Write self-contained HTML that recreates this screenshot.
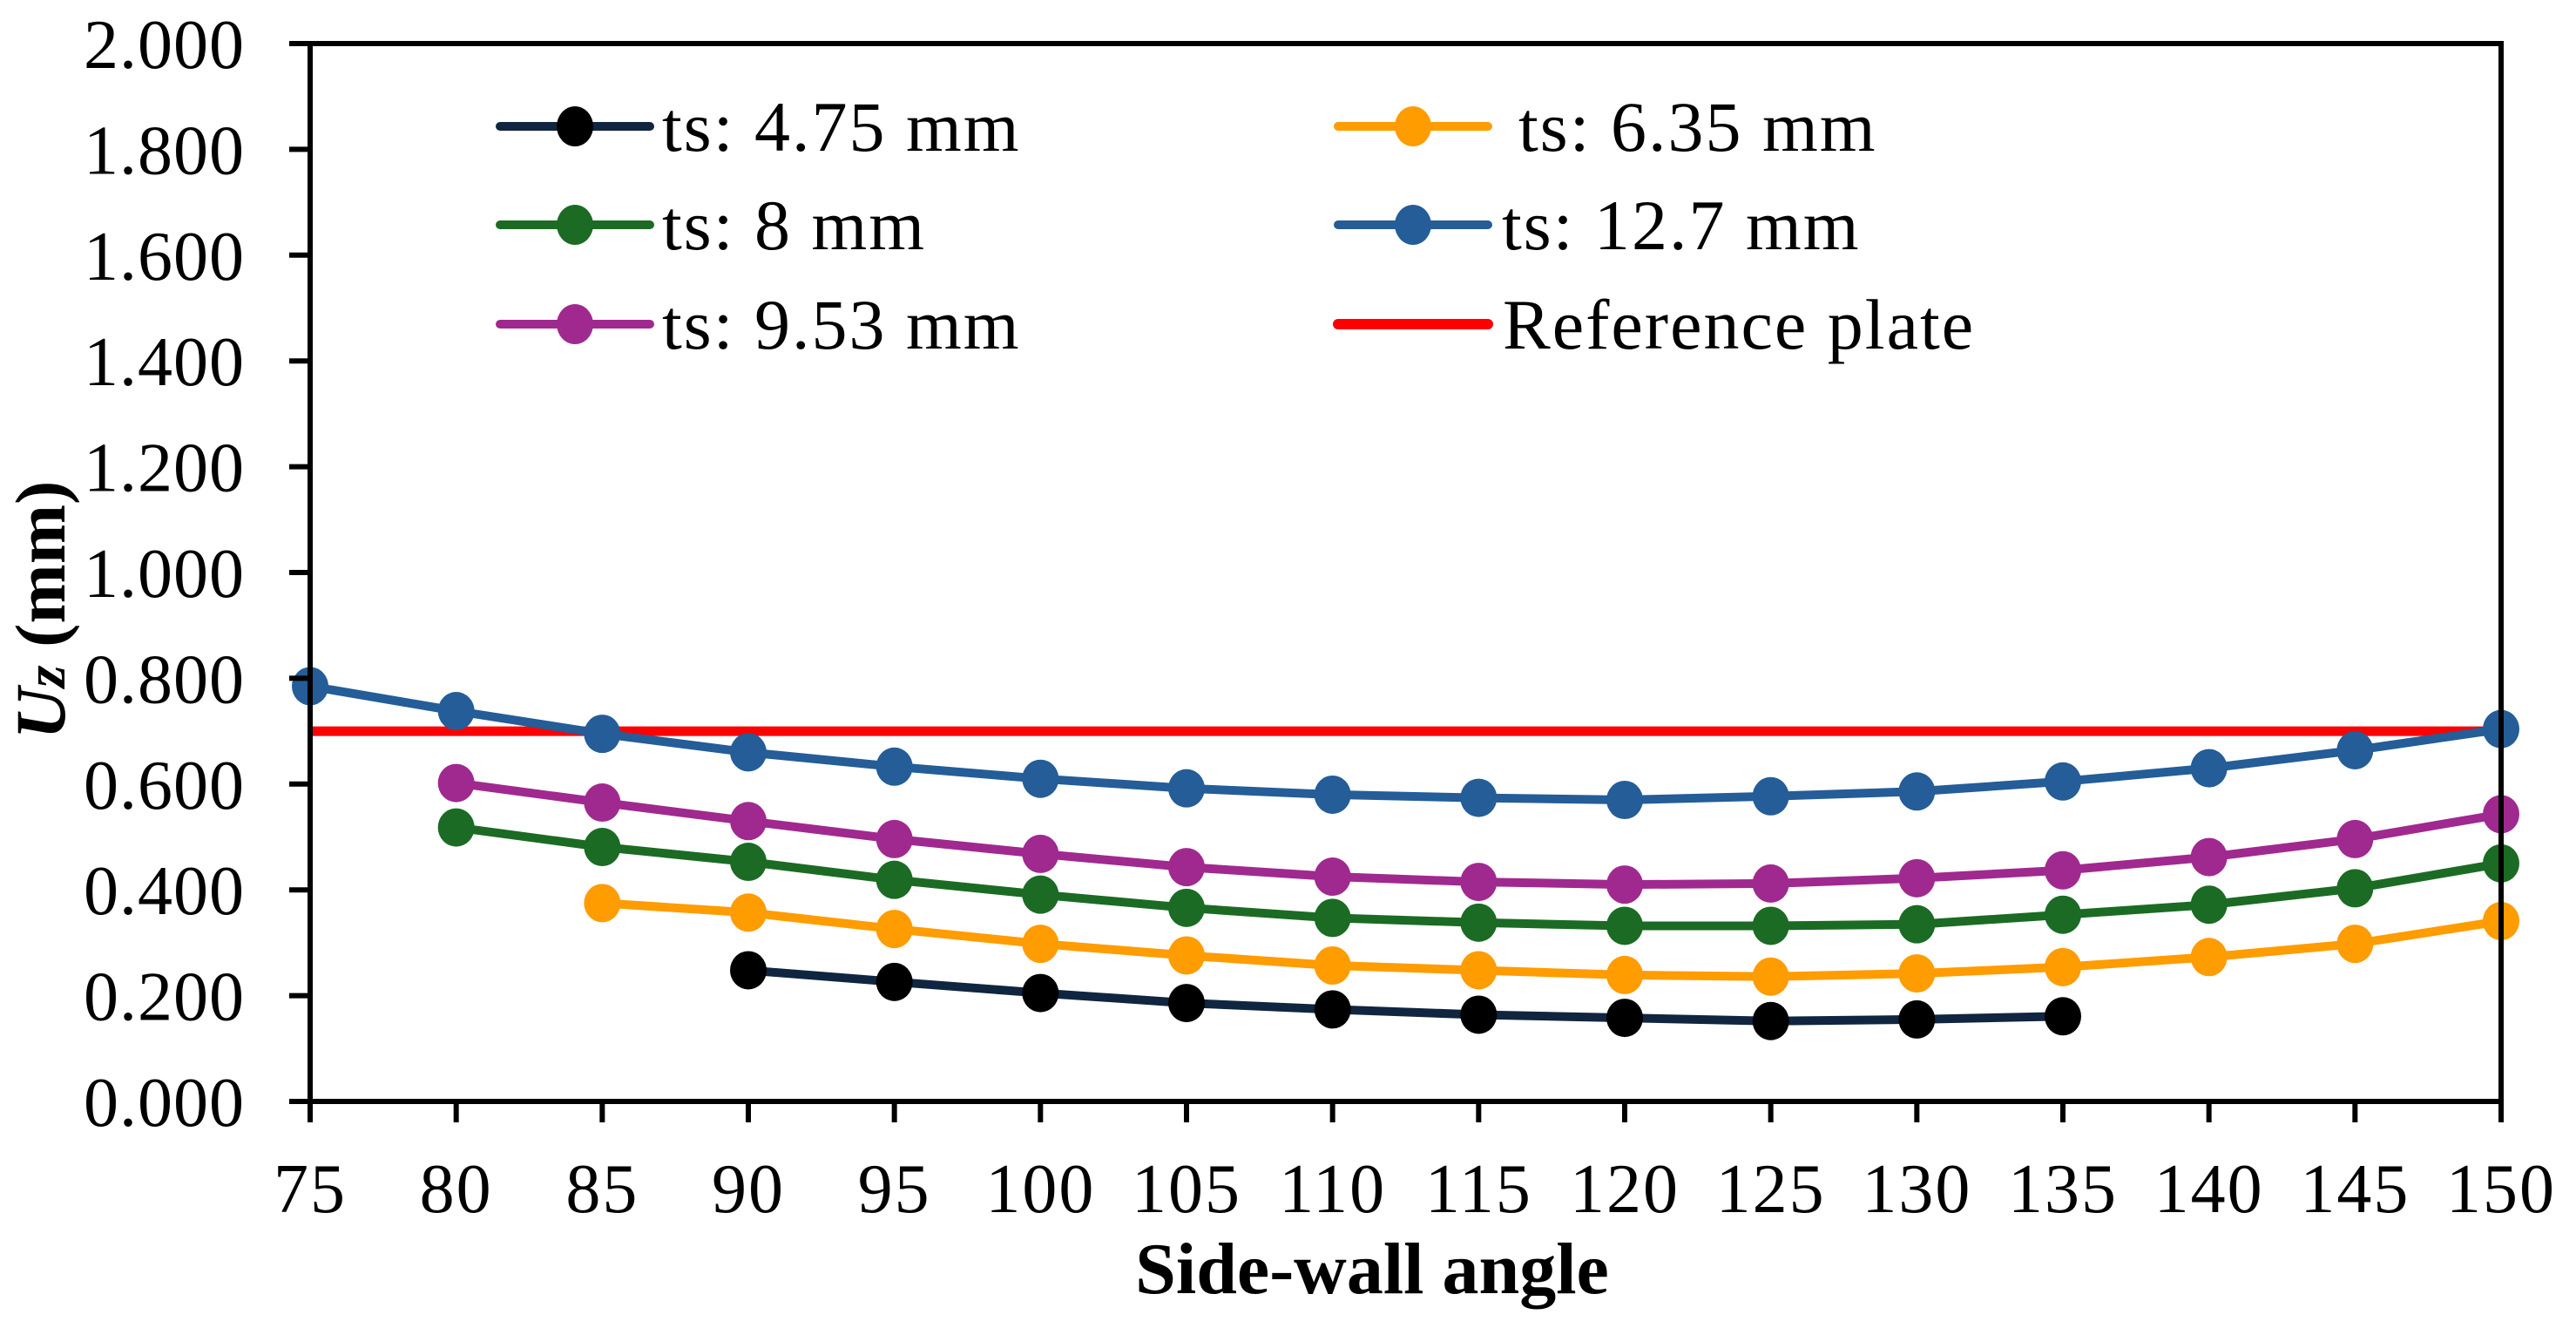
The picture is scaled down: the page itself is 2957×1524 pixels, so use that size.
<!DOCTYPE html>
<html><head><meta charset="utf-8"><style>
html,body{margin:0;padding:0;background:#fff;}
svg{display:block;font-family:"Liberation Serif",serif;}
</style></head><body>
<svg id="chart" width="2957" height="1524" viewBox="0 0 2957 1524" xmlns="http://www.w3.org/2000/svg">
<rect width="2957" height="1524" fill="#fff"/>
<g id="grid-layer"></g>
<g id="series-layer"></g>
<g id="axes-layer"></g>
<g id="legend-layer"></g>
</svg>
<script>
const categories = [75,80,85,90,95,100,105,110,115,120,125,130,135,140,145,150];
const xTicks = [75,80,85,90,95,100,105,110,115,120,125,130,135,140,145,150];
const yTicks = [0,0.2,0.4,0.6,0.8,1.0,1.2,1.4,1.6,1.8,2.0];
const ts475 = [null,null,null,0.248,0.226,0.205,0.186,0.174,0.164,0.158,0.152,0.155,0.161,null,null,null];
const ts635 = [null,null,0.375,0.357,0.326,0.298,0.276,0.257,0.248,0.239,0.236,0.242,0.254,0.273,0.298,0.341];
const ts8 = [null,0.518,0.481,0.453,0.419,0.391,0.366,0.347,0.338,0.332,0.332,0.335,0.353,0.372,0.403,0.450];
const ts127 = [0.785,0.738,0.695,0.660,0.633,0.610,0.592,0.580,0.574,0.570,0.577,0.586,0.605,0.630,0.664,0.704];
const ts953 = [null,0.602,0.565,0.530,0.496,0.468,0.443,0.425,0.415,0.410,0.412,0.422,0.437,0.462,0.496,0.543];
const referencePlate = 0.70;

const NS="http://www.w3.org/2000/svg";
const L=356,R=2871,T=50,B=1264;
const xMin=75,xMax=150,yMin=0,yMax=2;
function xs(v){return L+(v-xMin)/(xMax-xMin)*(R-L);}
function ys(v){return B-(v-yMin)/(yMax-yMin)*(B-T);}
function mk(tag,attrs,parent){const e=document.createElementNS(NS,tag);for(const k in attrs)e.setAttribute(k,attrs[k]);parent.appendChild(e);return e;}

const seriesL=document.getElementById('series-layer');
const axesL=document.getElementById('axes-layer');
const legL=document.getElementById('legend-layer');

const ref=mk('line',{x1:xs(xMin),x2:xs(xMax),y1:ys(referencePlate),y2:ys(referencePlate),stroke:'#ff0000','stroke-width':11},seriesL);



const series=[
 {name:'ts-12-7',vals:ts127,line:'#245d98',mark:'#245d98'},
 {name:'ts-9-53',vals:ts953,line:'#a0298f',mark:'#a0298f'},
 {name:'ts-8',vals:ts8,line:'#1b6b24',mark:'#1b6b24'},
 {name:'ts-6-35',vals:ts635,line:'#ff9c00',mark:'#ff9c00'},
 {name:'ts-4-75',vals:ts475,line:'#10253f',mark:'#000000'}
];
series.forEach(s=>{
  const g=mk('g',{},seriesL);
  
  
  let pts=[];
  s.vals.forEach((v,i)=>{if(v!==null)pts.push(xs(categories[i]).toFixed(1)+','+ys(v).toFixed(1));});
  const pl=mk('polyline',{points:pts.join(' '),fill:'none',stroke:s.line,'stroke-width':10,'stroke-linejoin':'round','stroke-linecap':'round'},g);
  
  
  s.vals.forEach((v,i)=>{if(v===null)return;
    const c=mk('ellipse',{cx:xs(categories[i]),cy:ys(v),rx:21,ry:22,fill:s.mark},g);
    
    
  });
});

const frame=mk('rect',{x:L,y:T,width:R-L,height:B-T,fill:'none',stroke:'#000','stroke-width':6},axesL);



yTicks.forEach(v=>{
  const t=mk('line',{x1:L-24,x2:L,y1:ys(v),y2:ys(v),stroke:'#000','stroke-width':6},axesL);
  
  
  const tx=mk('text',{x:281,y:ys(v)+28,'text-anchor':'end','font-size':80,'letter-spacing':1},axesL);
  tx.textContent=v.toFixed(3);
  
  
});
xTicks.forEach(v=>{
  const t=mk('line',{x1:xs(v),x2:xs(v),y1:B,y2:B+24,stroke:'#000','stroke-width':6},axesL);
  
  
  const tx=mk('text',{x:xs(v),y:1391,'text-anchor':'middle','font-size':80,'letter-spacing':2},axesL);
  tx.textContent=String(v);
  
  
});
const xt=mk('text',{x:1575,y:1484,'text-anchor':'middle','font-size':84,'font-weight':'bold'},axesL);
xt.textContent='Side-wall angle';


const yt=mk('text',{x:0,y:0,'text-anchor':'middle','font-size':82,'font-weight':'bold',transform:'translate(74,700) rotate(-90)'},axesL);
yt.innerHTML='<tspan font-style="italic">U</tspan><tspan font-style="italic" font-size="66">z</tspan> (mm)';



const legend=[
 {label:'ts: 4.75 mm',line:'#10253f',mark:'#000000',x0:574,tx:760,y:145,name:'legend-ts-4-75'},
 {label:'ts: 8 mm',line:'#1b6b24',mark:'#1b6b24',x0:574,tx:760,y:258,name:'legend-ts-8'},
 {label:'ts: 9.53 mm',line:'#a0298f',mark:'#a0298f',x0:574,tx:760,y:372,name:'legend-ts-9-53'},
 {label:'ts: 6.35 mm',line:'#ff9c00',mark:'#ff9c00',x0:1536,tx:1743,y:145,name:'legend-ts-6-35'},
 {label:'ts: 12.7 mm',line:'#245d98',mark:'#245d98',x0:1536,tx:1724,y:258,name:'legend-ts-12-7'},
 {label:'Reference plate',line:'#ff0000',mark:null,x0:1536,tx:1725,y:372,name:'legend-reference-plate'}
];
legend.forEach(e=>{
  const g=mk('g',{},legL);
  
  
  mk('line',{x1:e.x0,x2:e.x0+172,y1:e.y,y2:e.y,stroke:e.line,'stroke-width':e.mark?10:12,'stroke-linecap':'round'},g);
  if(e.mark)mk('ellipse',{cx:e.x0+86,cy:e.y,rx:21,ry:23,fill:e.mark},g);
  const t=mk('text',{x:e.tx,y:e.y+28,'font-size':82,'letter-spacing':2},g);
  t.textContent=e.label;
});
</script>
</body></html>
